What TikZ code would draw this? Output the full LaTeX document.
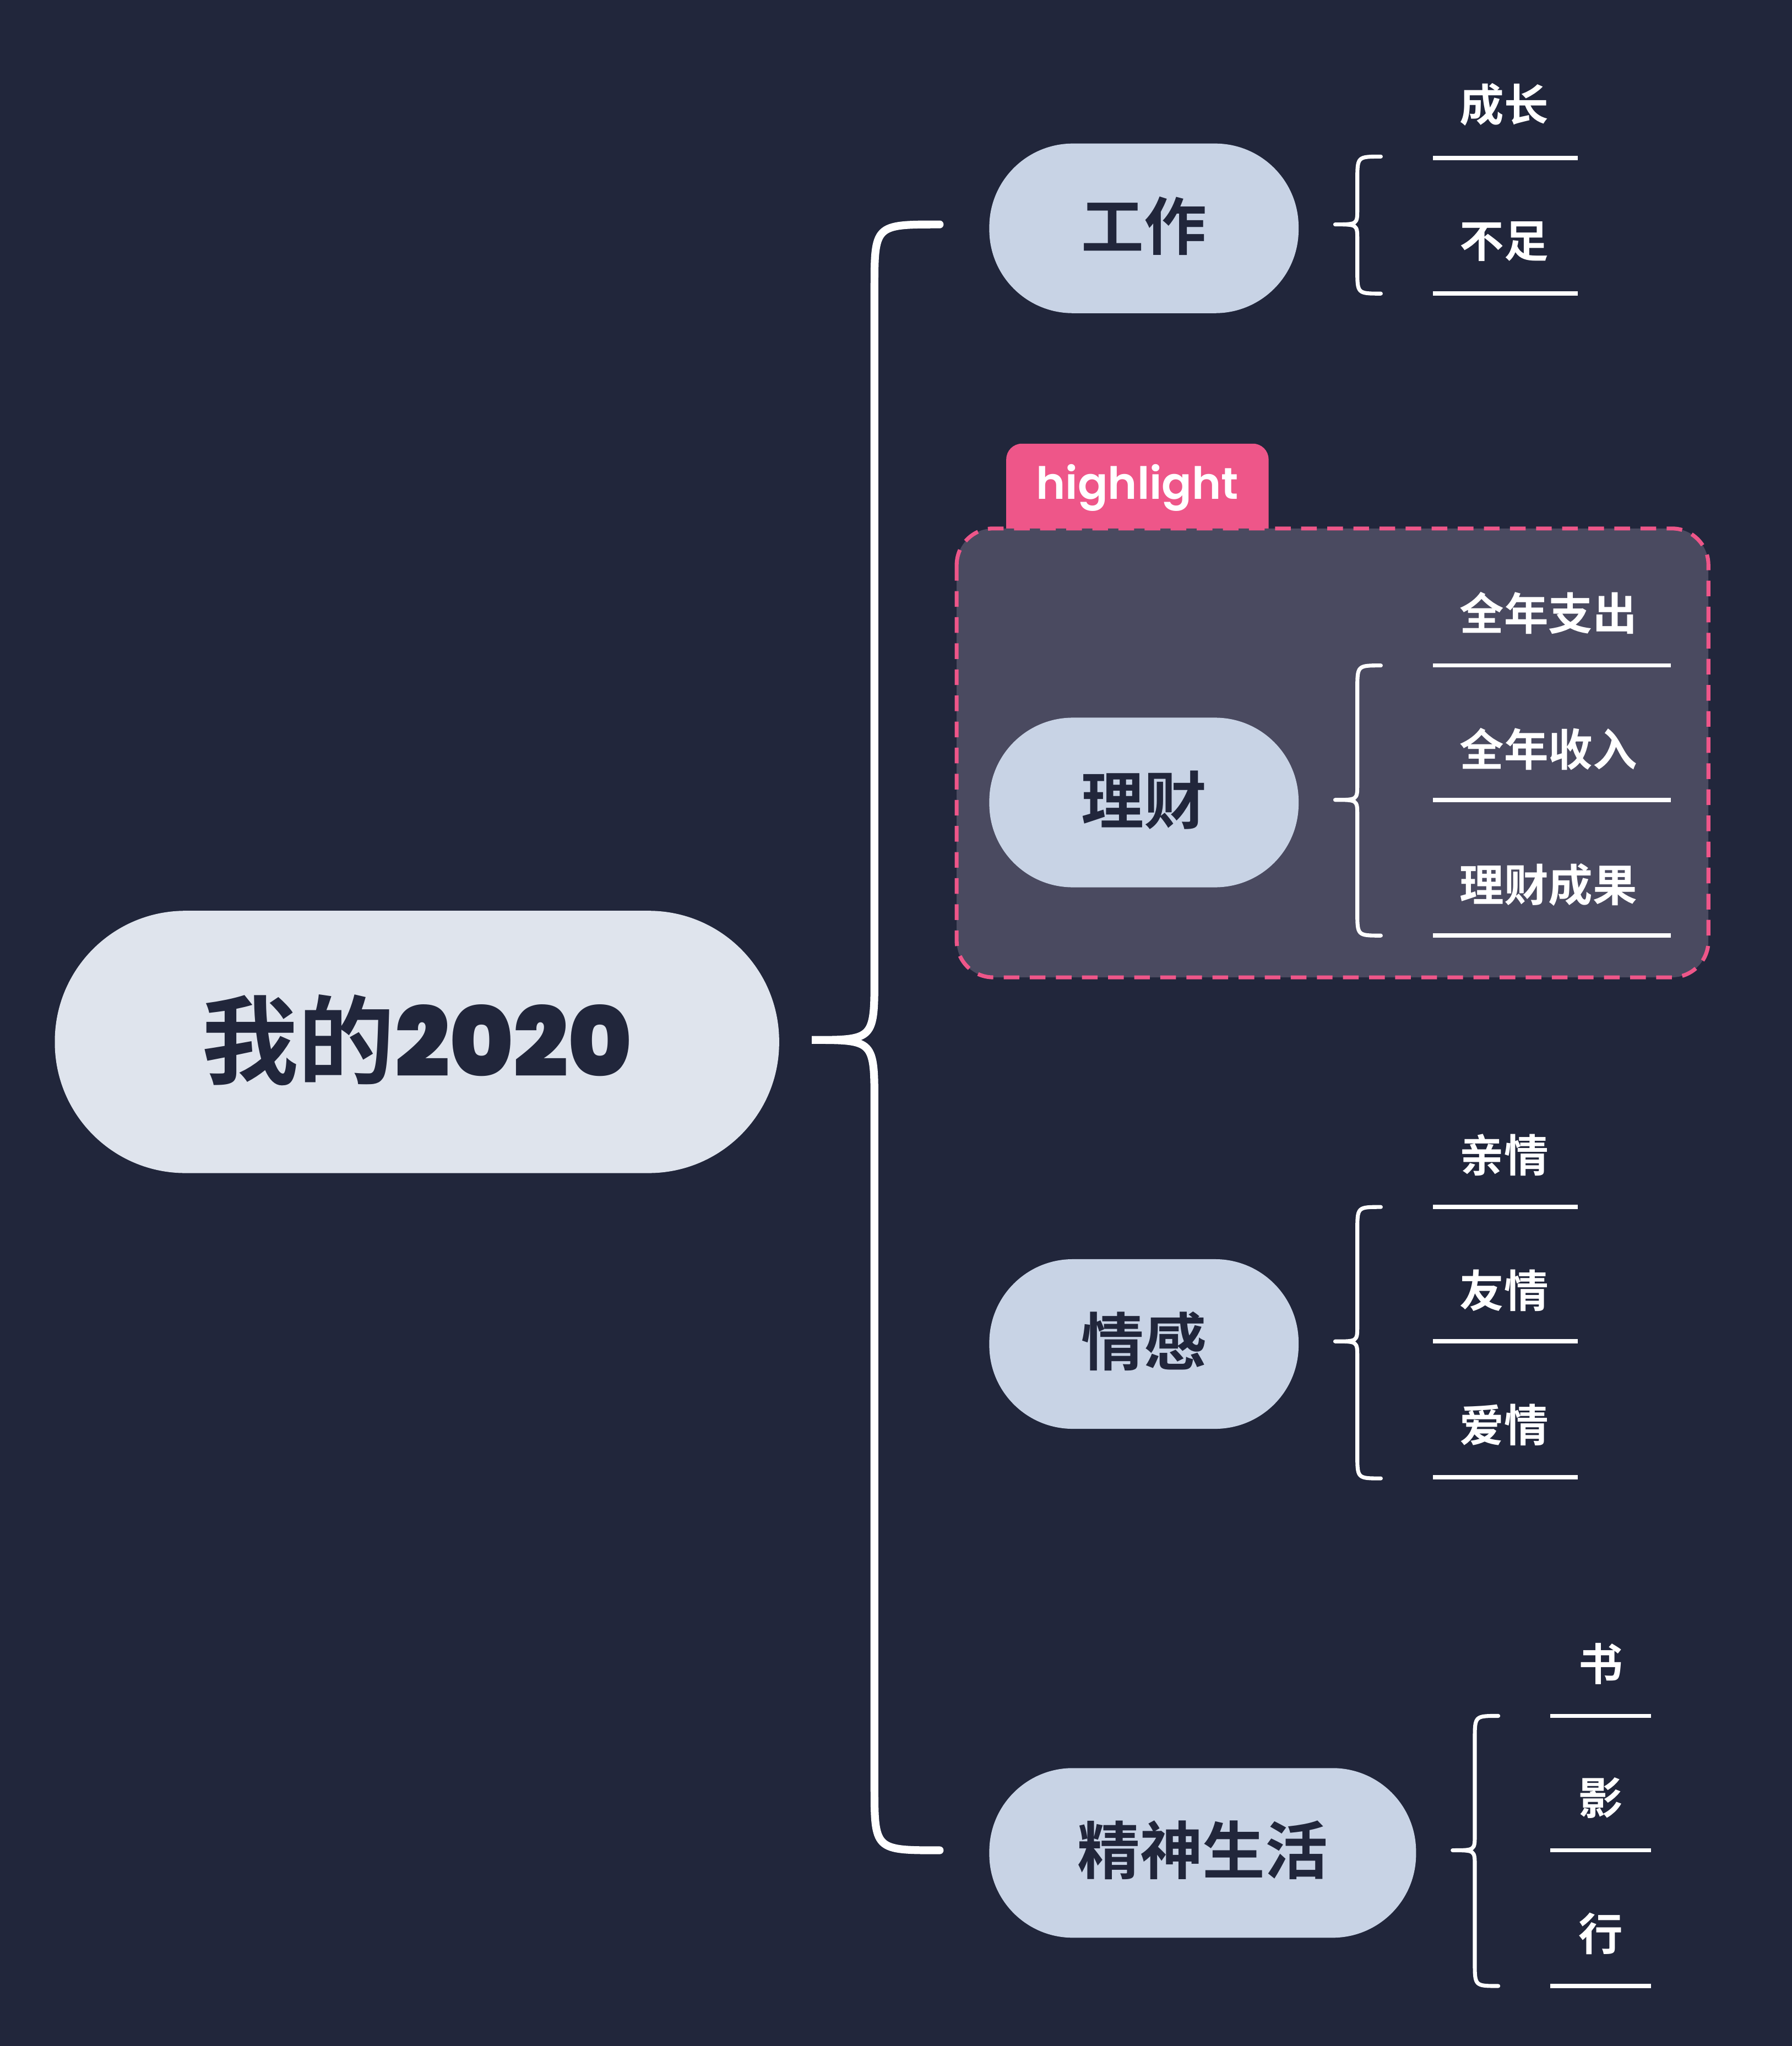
\documentclass[tikz,border=0pt]{standalone}
\usepackage{fontspec}
\setmainfont{Noto Sans CJK SC}
\newfontfamily\cjkb{Noto Sans CJK SC Bold}
\newfontfamily\popb{Poppins}[UprightFont=* SemiBold]
\definecolor{bg}{RGB}{33,38,59}
\definecolor{rootc}{RGB}{223,228,237}
\definecolor{brc}{RGB}{200,211,229}
\definecolor{dark}{RGB}{33,38,59}
\definecolor{pink}{RGB}{238,86,137}
\definecolor{hlbg}{RGB}{74,74,96}
\begin{document}
\begin{tikzpicture}[x=0.5pt,y=-0.5pt,
  pill/.style={rounded corners=32pt,fill=brc,inner sep=0pt},
  brtext/.style={font=\cjkb\fontsize{24}{24}\selectfont,text=dark},
  leaf/.style={anchor=west,font=\cjkb\fontsize{17}{17}\selectfont,text=white,inner sep=0pt},
  uline/.style={white,line width=1.6pt},
  brace/.style={white,line width=1.5pt,line cap=round,line join=round},
  bigbrace/.style={white,line width=3pt,line cap=round}]
\fill[bg] (0,0) rectangle (1373,1568);
% highlight
\fill[pink,rounded corners=6pt] (771,340) rectangle (972,420);
\node[font=\popb\fontsize{17}{17}\selectfont,text=white] (hl) at (871.5,374) {highlight};
\draw[pink,fill=hlbg,dashed,dash pattern=on 6pt off 4pt,line width=1.5pt,rounded corners=14pt] (733,405) rectangle (1309,749);
% root
\fill[rootc,rounded corners=50pt] (42,698) rectangle (597,899);
\node[font=\cjkb\fontsize{37}{37}\selectfont,text=dark] (root) at (319.5,797) {我的{\popb\bfseries 2020}};
% branches
\fill[brc,rounded corners=32pt] (758,110) rectangle (995,240);
\node[brtext] (b1) at (876.5,173) {工作};
\fill[brc,rounded corners=32pt] (758,550) rectangle (995,680);
\node[brtext] (b2) at (876.5,613) {理财};
\fill[brc,rounded corners=32pt] (758,965) rectangle (995,1095);
\node[brtext] (b3) at (876.5,1028) {情感};
\fill[brc,rounded corners=32pt] (758,1355) rectangle (1085,1485);
\node[brtext] (b4) at (921.5,1418) {精神生活};
% big brace
\draw[bigbrace] (720,172) .. controls (670,172) .. (670,222) -- (670,747) .. controls (670,797) .. (622,797)
  .. controls (670,797) .. (670,847) -- (670,1368) .. controls (670,1418) .. (720,1418);
% small braces
\newcommand\sbrace[4]{% x tip, top, tip y, bottom
  \draw[brace] (#1+35,#2) .. controls (#1+17,#2) .. (#1+17,#2+18) -- (#1+17,#3-12) .. controls (#1+17,#3) .. (#1,#3)
   .. controls (#1+17,#3) .. (#1+17,#3+12) -- (#1+17,#4-18) .. controls (#1+17,#4) .. (#1+35,#4);}
\sbrace{1023}{120}{172}{225}
\sbrace{1023}{510}{613}{717}
\sbrace{1023}{925}{1028}{1133}
\sbrace{1113}{1315}{1418}{1522}
% leaves
\node[leaf] (l1) at (1118,80) {成长}; \draw[uline] (1098,121) -- (1209,121);
\node[leaf] (l2) at (1118,185) {不足}; \draw[uline] (1098,225) -- (1209,225);
\node[leaf] (l3) at (1118,470) {全年支出}; \draw[uline] (1098,510) -- (1280,510);
\node[leaf] (l4) at (1118,574) {全年收入}; \draw[uline] (1098,613) -- (1280,613);
\node[leaf] (l5) at (1118,678) {理财成果}; \draw[uline] (1098,717) -- (1280,717);
\node[leaf] (l6) at (1118,885) {亲情}; \draw[uline] (1098,925) -- (1209,925);
\node[leaf] (l7) at (1118,989) {友情}; \draw[uline] (1098,1028) -- (1209,1028);
\node[leaf] (l8) at (1118,1092) {爱情}; \draw[uline] (1098,1132) -- (1209,1132);
\node[leaf] (l9) at (1209,1275) {书}; \draw[uline] (1188,1315) -- (1265,1315);
\node[leaf] (l10) at (1209,1378) {影}; \draw[uline] (1188,1418) -- (1265,1418);
\node[leaf] (l11) at (1209,1482) {行}; \draw[uline] (1188,1522) -- (1265,1522);
\end{tikzpicture}
\end{document}
